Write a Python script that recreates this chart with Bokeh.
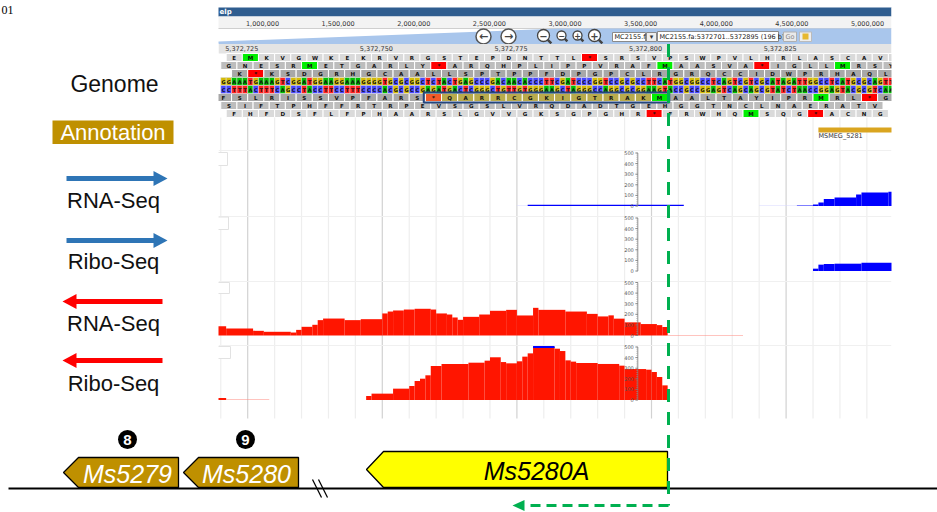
from bokeh.plotting import figure
from bokeh.models import Range1d
from bokeh.core.properties import value
from bokeh.embed import file_html
from bokeh.resources import INLINE

# ======================= data =======================
OVERVIEW_MB = [1.0, 1.5, 2.0, 2.5, 3.0, 3.5, 4.0, 4.5, 5.0]
OVERVIEW_LABELS = ["1,000,000", "1,500,000", "2,000,000", "2,500,000", "3,000,000",
                   "3,500,000", "4,000,000", "4,500,000", "5,000,000"]
RULER_POS = [5372725, 5372750, 5372775, 5372800, 5372825]
RULER_LABELS = ["5,372,725", "5,372,750", "5,372,775", "5,372,800", "5,372,825"]
REF_NAME = "MC2155.fa"
LOCATION = "MC2155.fa:5372701..5372895 (196 b)"
FIG_LABEL = "01"

SEQ_START = 5372720
SEQ_FWD = ("GGAAATGAAAGTCGGATGGAAGGAAAGGGGTGCGCGGCTCTACTGAGCCCGACAACACCC"
           "TTCGATCCCGGTCCGCGCCTTCATGGCGGCCTCAGTCGTCGCATAGATTGGCCTCATGCGCAGTTACC")
SEQ_REV = ("CCTTTACTTTCAGCCTACCTTCCTTTCCCCACGCGCCGAGATGACTCGGGCTGTTGTGGG"
           "AAGCTAGGGCCAGGCGCGGAAGTACCGCCGGAGTCAGCAGCGTATCTAACCGGAGTACGCGTCAATGG")

# six translation frames: first codon start, amino acids (3 forward, 3 reverse)
FRAME_STARTS = [5372721, 5372720, 5372722, 5372719, 5372720, 5372721]
FRAME_AA = [
    "EMKVGWKEKRVRGSTEPDNTTL*SRSVPSWPVLHRLASCAVT",
    "GNESRMETGARLY*ARQHPLIPPVRAFMAASVA*IGLLMRSY",
    "K*KSDGRHGCAALLSPTPPFDPGPCLRGRQCCIDWPRHAQLP",
    "FSLRISSVPFARS*QARRCGKIGTRAKMAALTAYIPRMRL*G",
    "SIFTPHFFRTRPEVSGSLVRQDADTGEHGGTNCLNAERATV",
    "FHFDSFLFPHAARSLGVVGKSGPGHR*FRWHQMSQG*ACNG",
]
ORF_FROM = 5372758   # highlighted reverse ORF (stop ... start codon)
ORF_TO = 5372803

ANNOT_START = 5372831
ANNOT_END = 5372850
ANNOT_NAME = "MSMEG_5281"

# coverage tracks: bin left, bin right, depth
RNA_FWD_L = [5372777, 5372827, 5372830, 5372831, 5372832, 5372834, 5372838, 5372839, 5372844]
RNA_FWD_R = [5372806, 5372830, 5372831, 5372832, 5372834, 5372838, 5372839, 5372844, 5372845]
RNA_FWD_V = [12, 4, 13, 32, 67, 80, 108, 127, 134]
RNA_FWD_FAINT = ([5372775, 5372820], [5372777, 5372827], [5, 5])

RIBO_FWD_L = [5372830, 5372831, 5372832, 5372834, 5372839]
RIBO_FWD_R = [5372831, 5372832, 5372834, 5372839, 5372845]
RIBO_FWD_V = [22, 60, 66, 69, 79]

RNA_REV_EDGES = [5372719, 5372721, 5372726, 5372728, 5372733, 5372734, 5372735, 5372737,
                 5372738, 5372739, 5372743, 5372746, 5372750, 5372751, 5372752, 5372754,
                 5372756, 5372759, 5372760, 5372762, 5372763, 5372764, 5372765, 5372768,
                 5372770, 5372773, 5372775, 5372778, 5372779, 5372784, 5372788, 5372790,
                 5372792, 5372793, 5372795, 5372798, 5372801, 5372802, 5372803]
RNA_REV_V = [88, 66, 44, 35, 28, 53, 82, 101, 145, 160, 145, 154, 208, 226, 236, 245, 252,
             245, 208, 198, 170, 148, 176, 198, 233, 242, 189, 261, 242, 226, 204, 180, 190,
             159, 124, 108, 98, 80]
RNA_REV_TAIL = (5372803, 5372817, 5)

RIBO_REV_EDGES = [5372747, 5372748, 5372752, 5372755, 5372756, 5372757, 5372758, 5372759,
                  5372761, 5372766, 5372769, 5372770, 5372772, 5372773, 5372775, 5372776,
                  5372777, 5372778, 5372782, 5372783, 5372784, 5372785, 5372786, 5372790,
                  5372794, 5372795, 5372799, 5372800, 5372801, 5372802, 5372803]
RIBO_REV_V = [38, 60, 107, 132, 179, 201, 233, 321, 340, 352, 371, 403, 358, 346, 365, 409,
              440, 500, 484, 462, 374, 362, 349, 340, 324, 292, 286, 264, 217, 138]
RIBO_REV_HEAD = (5372719, 5372721, 19)
RIBO_REV_TAIL = (5372721, 5372729, 5)
RIBO_REV_CLIP = (5372778, 5372782)

AXIS_TICKS = [0, 100, 200, 300, 400, 500]
TRACK_NAMES = ["RNA-Seq", "Ribo-Seq", "RNA-Seq", "Ribo-Seq"]
GENE_NAMES = ["Ms5279", "Ms5280", "Ms5280A"]
GENE_NUMBERS = ["8", "9"]

# ======================= layout / style =======================
W, H = 937, 512
ANCHOR_X, ANCHOR_BP, PX_PER_BP = 651.0, 5372800, 5.384
BROWSER_L, BROWSER_R = 218, 891
TRACK_BASE_Y = [205.5, 270.5, 335.0, 399.5]
PX_PER_500 = 53.0
GOLD = "#bf9000"
BLUE_ARROW = "#2e75b6"
RED = "#ff1500"
GREEN = "#00b050"
FONT = value("Liberation Sans")
SMALL = value("DejaVu Sans")


def bp_at(x):
    return ANCHOR_BP + (x - ANCHOR_X) / PX_PER_BP


p = figure(width=W, height=H, x_range=Range1d(0, W), y_range=Range1d(H, 0),
           output_backend="svg", toolbar_location=None, min_border=0,
           x_axis_type=None, y_axis_type=None)
p.outline_line_color = None
p.background_fill_color = "white"
p.extra_x_ranges = {"bp": Range1d(bp_at(0), bp_at(W)),
                    "mb": Range1d((0 - 110.75) / 151.25, (W - 110.75) / 151.25)}
for i, base in enumerate(TRACK_BASE_Y):
    s = PX_PER_500 / 500.0
    p.extra_y_ranges["t%d" % i] = Range1d(-(H - base) / s, base / s)


def box(l, r, t, b, fill, line=None, lw=1, xr="default", yr="default"):
    p.quad(left=[l], right=[r], top=[t], bottom=[b], fill_color=fill, line_color=line,
           line_width=lw, x_range_name=xr, y_range_name=yr)


def txt(x, y, s, size, color="black", align="center", font=SMALL, style="normal",
        xr="default", yr="default", baseline="middle"):
    xs = x if isinstance(x, list) else [x]
    ys = y if isinstance(y, list) else [y] * len(xs)
    ss = s if isinstance(s, list) else [s]
    p.text(x=xs, y=ys, text=ss, text_font=font, text_font_size=size, text_color=color,
           text_align=align, text_baseline=baseline, text_font_style=style,
           x_range_name=xr, y_range_name=yr)


txt(1, 9, FIG_LABEL, "12px", "black", "left", font=value("Liberation Serif"),
    baseline="alphabetic")

# ---------------- browser chrome ----------------
box(BROWSER_L, BROWSER_R, 7, 16, "#2f5d8f")
txt(219, 11.5, "elp", "7px", "white", "left", style="bold")
box(BROWSER_L, BROWSER_R, 16, 28, "#f3f3f3")
p.segment(x0=[BROWSER_L], x1=[BROWSER_R], y0=[28], y1=[28], line_color="#cfcfcf")
txt(OVERVIEW_MB, 22.5, OVERVIEW_LABELS, "6.5px", "#333333", xr="mb")
p.patch(x=[BROWSER_L, BROWSER_L, 560, BROWSER_R, BROWSER_R], y=[43.5, 41, 28, 28, 43.5],
        fill_color="#a9c6ec", line_color=None)
# navigation buttons
for cx in (483, 508):
    p.circle(x=[cx], y=[36], radius=7.5, fill_color="white", line_color="#555555", line_width=1.5)
txt(483, 36, "\u2190", "11px", "#444444", style="bold")
txt(508, 36, "\u2192", "11px", "#444444", style="bold")
for cx, r, sign in ((543, 6, "\u2212"), (561, 4.5, "\u2212"), (577, 4.5, "+"), (594, 6, "+")):
    p.segment(x0=[cx + r * 0.6], y0=[35 + r * 0.6], x1=[cx + r * 1.3], y1=[35 + r * 1.3],
              line_color="#444444", line_width=2.5)
    p.circle(x=[cx], y=[35], radius=r, fill_color="white", line_color="#444444", line_width=1.3)
    txt(cx, 35, sign, "%dpx" % int(r * 1.8), "#444444", style="bold")
box(612, 645, 32, 41, "white", "#8a8a8a")
txt(614, 36.5, REF_NAME, "6.5px", "#222222", "left")
box(646, 656, 32, 41, "#eeeeee", "#8a8a8a")
txt(651, 36.5, "\u25be", "7px", "#333333")
box(657, 778, 31, 41, "white", "#8a8a8a")
txt(659, 36, LOCATION, "6.5px", "#222222", "left")
box(783, 796, 31.5, 41, "#eaeaea", "#b0b0b0")
txt(789.5, 36.3, "Go", "6.5px", "#888888")
box(799, 811, 31.5, 41, "#eeeeee", "#bbbbbb")
box(802, 808, 33, 39, "#e6b830")
# ruler
box(BROWSER_L, BROWSER_R, 43.5, 53, "#e4e4e4")
txt([v - 1.1 for v in RULER_POS], 48, RULER_LABELS, "6.5px", "#333333", xr="bp")

# ---------------- sequence track ----------------
ROW_TOP, ROW_H = 53, 8
FRAME_ROW = [0, 1, 2, 5, 6, 7]
FRAME_GRAY = ["#dadada", "#bdbdbd", "#a8a8a8", "#a8a8a8", "#bdbdbd", "#dadada"]
for k, (start, aa) in enumerate(zip(FRAME_STARTS, FRAME_AA)):
    row = FRAME_ROW[k]
    lefts = [start + 3 * j for j in range(len(aa))]
    cols = []
    for l, a in zip(lefts, aa):
        in_orf = (k == 3 and ORF_FROM <= l < ORF_TO)
        if a == "M":
            cols.append("#00ee00")
        elif a == "*":
            cols.append("#f05a28" if in_orf else "#ff0000")
        elif in_orf:
            cols.append("#b9ab4c")
        else:
            cols.append(FRAME_GRAY[k])
    n = len(aa)
    p.quad(left=lefts, right=[l + 3 for l in lefts], top=[ROW_TOP + row * ROW_H] * n,
           bottom=[ROW_TOP + (row + 1) * ROW_H] * n, fill_color=cols, line_color="white",
           line_width=1, x_range_name="bp")
    txt([l + 1.5 for l in lefts], ROW_TOP + row * ROW_H + 4.2, list(aa), "5.5px", "#111111",
        style="bold", xr="bp")

BASE_COL = {"A": "#00bf00", "C": "#4747ff", "G": "#d5bb04", "T": "#ff2020"}
for row, seq in ((3, SEQ_FWD), (4, SEQ_REV)):
    lefts = [SEQ_START + j for j in range(len(seq))]
    n = len(seq)
    p.quad(left=lefts, right=[l + 1 for l in lefts], top=[ROW_TOP + row * ROW_H] * n,
           bottom=[ROW_TOP + (row + 1) * ROW_H] * n, fill_color=[BASE_COL[b] for b in seq],
           line_color="#dddddd", line_width=0.5, x_range_name="bp")
    txt([l + 0.5 for l in lefts], ROW_TOP + row * ROW_H + 4.2, list(seq), "5px", "#111111",
        style="bold", xr="bp")
p.quad(left=[ORF_FROM - 0.3], right=[ORF_TO + 0.3], top=[ROW_TOP + 5 * ROW_H - 1],
       bottom=[ROW_TOP + 6 * ROW_H + 1], fill_color=None, line_color="#24467e", line_width=2,
       x_range_name="bp")

# ---------------- track area ----------------
grid = list(range(5372720, 5372850, 5))
p.segment(x0=grid, x1=grid, y0=[117] * len(grid), y1=[418] * len(grid),
          line_color=["#d2d2d2" if g % 25 == 0 else "#eeeeee" for g in grid], line_width=1.2,
          x_range_name="bp")
for ysep in (150, 216, 281, 345):
    p.segment(x0=[BROWSER_L], x1=[BROWSER_R], y0=[ysep], y1=[ysep], line_color="#f0f0f0")
for (r, t, b) in ((227, 152, 165), (228, 216.5, 229), (229, 282, 293), (230, 346, 358)):
    box(215, r, t, b, "white", "#e2e2e2")

# annotation track
box(ANNOT_START, ANNOT_END, 127, 132, "#daa520", xr="bp")
txt(ANNOT_START, 135.5, ANNOT_NAME, "6.5px", "#333333", "left", xr="bp")


def cover(L, R, V, color, t):
    p.quad(left=L, right=R, bottom=[0] * len(V), top=V, fill_color=color, line_color=None,
           x_range_name="bp", y_range_name=t)


cover(RNA_FWD_FAINT[0], RNA_FWD_FAINT[1], RNA_FWD_FAINT[2], "#d8d8ff", "t0")
cover(RNA_FWD_L, RNA_FWD_R, RNA_FWD_V, "#0000ff", "t0")
cover(RIBO_FWD_L, RIBO_FWD_R, RIBO_FWD_V, "#0000ff", "t1")
cover(RNA_REV_EDGES[:-1], RNA_REV_EDGES[1:], RNA_REV_V, RED, "t2")
cover([RNA_REV_TAIL[0]], [RNA_REV_TAIL[1]], [RNA_REV_TAIL[2]], "#ff8a80", "t2")
cover(RIBO_REV_EDGES[:-1], RIBO_REV_EDGES[1:], RIBO_REV_V, RED, "t3")
cover([RIBO_REV_HEAD[0]], [RIBO_REV_HEAD[1]], [RIBO_REV_HEAD[2]], RED, "t3")
cover([RIBO_REV_TAIL[0]], [RIBO_REV_TAIL[1]], [RIBO_REV_TAIL[2]], "#ff8a80", "t3")
p.segment(x0=[RIBO_REV_CLIP[0]], x1=[RIBO_REV_CLIP[1]], y0=[500], y1=[500], line_color="#0000ff",
          line_width=2, x_range_name="bp", y_range_name="t3")

# small y scales in the middle of each track
AX_X = 637.3
minor = list(range(0, 501, 20))
for i in range(4):
    t = "t%d" % i
    p.segment(x0=[AX_X], x1=[AX_X], y0=[0], y1=[500], line_color="#777777", line_width=0.8,
              y_range_name=t)
    p.segment(x0=[AX_X - 1.5] * len(minor), x1=[AX_X] * len(minor), y0=minor, y1=minor,
              line_color="#999999", line_width=0.6, y_range_name=t)
    p.segment(x0=[AX_X - 2.5] * len(AXIS_TICKS), x1=[AX_X] * len(AXIS_TICKS), y0=AXIS_TICKS,
              y1=AXIS_TICKS, line_color="#777777", line_width=0.8, y_range_name=t)
    txt([AX_X - 4] * len(AXIS_TICKS), AXIS_TICKS, [str(v) for v in AXIS_TICKS], "5px",
        "#555555", "right", yr=t)

# masks outside the browser window
box(0, BROWSER_L, 43, 420, "white")
box(BROWSER_R, W, 7, 420, "white")

# ---------------- left legend ----------------
txt(114, 83, "Genome", "23px", "#111111", font=FONT)
box(52, 173, 120, 143.5, GOLD)
txt(112.5, 132, "Annotation", "22px", "white", font=FONT)


def arrow(x_tail, x_tip, y, color):
    d = 1 if x_tip > x_tail else -1
    hl, hh, sh = 14, 7.5, 2.5
    xb = x_tip - d * hl
    p.patch(x=[x_tail, xb, xb, x_tip, xb, xb, x_tail],
            y=[y - sh, y - sh, y - hh, y, y + hh, y + sh, y + sh],
            fill_color=color, line_color=None)


arrow(66, 167, 178, BLUE_ARROW)
arrow(66, 167, 240, BLUE_ARROW)
arrow(162, 62, 301, "#ff0000")
arrow(162, 62, 360, "#ff0000")
for y, name in zip((200, 261, 323, 383), TRACK_NAMES):
    txt(113, y, name, "22px", "#111111", font=FONT)

# ---------------- gene diagram ----------------
p.segment(x0=[8], x1=[W], y0=[488], y1=[488], line_color="black", line_width=2)
p.segment(x0=[312, 318], x1=[321, 327], y0=[479, 479], y1=[497, 497], line_color="black",
          line_width=1.3)
GENE_TIP = [63, 183, 366]
GENE_BODY = [78, 198, 383]
GENE_RIGHT = [178, 298, 667]
GENE_TOP = [457, 457, 451]
GENE_LABEL_X = [127, 246, 536]
GENE_FILL = [GOLD, GOLD, "#ffff00"]
GENE_TEXT = ["white", "white", "black"]
for name, tip, bl, rt, top, lx, fc, tc in zip(GENE_NAMES, GENE_TIP, GENE_BODY, GENE_RIGHT,
                                             GENE_TOP, GENE_LABEL_X, GENE_FILL, GENE_TEXT):
    mid = (top + 487) / 2
    p.patch(x=[tip, bl, rt, rt, bl], y=[mid, top, top, 487, 487], fill_color=fc,
            line_color="black", line_width=1.3)
    txt(lx, mid + 1, name, "25px", tc, font=FONT, style="italic")
for cx, num in zip((127, 245), GENE_NUMBERS):
    p.circle(x=[cx], y=[439], radius=9.5, fill_color="black", line_color=None)
    txt(cx, 439.5, num, "15px", "white", font=FONT, style="bold")

# ---------------- green dashed start-site marker ----------------
p.segment(x0=[668], x1=[668], y0=[43.5], y1=[505], line_color=GREEN, line_width=3,
          line_dash="13 10")
p.segment(x0=[668], x1=[524], y0=[505], y1=[505], line_color=GREEN, line_width=3,
          line_dash="10 6")
p.patch(x=[512, 524, 524], y=[505, 499.5, 510.5], fill_color=GREEN, line_color=None)

open("out.html", "w").write(file_html(p, INLINE))
